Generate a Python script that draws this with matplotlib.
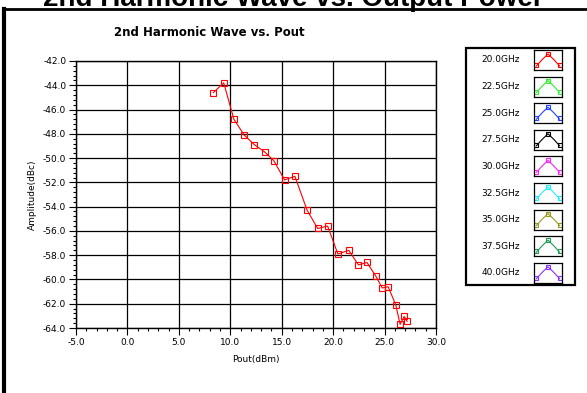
import matplotlib
matplotlib.use("Agg")
import matplotlib.pyplot as plt
from matplotlib.ticker import MultipleLocator, FormatStrFormatter
from matplotlib.patches import Rectangle
from matplotlib.lines import Line2D

# 20.0GHz trace
pout = [8.36, 9.36, 10.35, 11.35, 12.35, 13.35, 14.22, 15.28, 16.28, 17.47,
        18.50, 19.46, 20.46, 21.52, 22.46, 23.29, 24.13, 24.77, 25.35, 26.09,
        26.51, 26.90, 27.19]
amplitude = [-44.6, -43.8, -46.8, -48.1, -48.9, -49.5, -50.2, -51.8, -51.5, -54.3,
             -55.8, -55.6, -57.9, -57.6, -58.8, -58.6, -59.7, -60.7, -60.6, -62.1,
             -63.7, -63.05, -63.45]

freq_labels = ["20.0GHz", "22.5GHz", "25.0GHz", "27.5GHz", "30.0GHz",
               "32.5GHz", "35.0GHz", "37.5GHz", "40.0GHz"]
freq_colors = ["#ff0000", "#33ee33", "#2244ff", "#000000", "#ff22ff",
               "#22eeff", "#999922", "#229955", "#8833ff"]

W, H = 587, 393
fig = plt.figure(figsize=(W / 100, H / 100), dpi=100)
fig.patch.set_facecolor("white")

def fx(px):
    return px / W

def fy(py):
    return 1 - py / H

# page heading (cut off at the top edge, as in the source) and frame
fig.text(0.5, fy(6), "2nd Harmonic Wave vs. Output Power", ha="center", va="baseline",
         fontsize=20, fontweight="bold", family="Liberation Sans")
fig.add_artist(Line2D([fx(4), fx(4)], [fy(9), 0], color="black", lw=3))
fig.add_artist(Line2D([fx(4), 1], [fy(9), fy(9)], color="black", lw=2))

ax = fig.add_axes([fx(76), fy(328), fx(360), (328 - 61) / H])
ax.plot(pout, amplitude, color="red", lw=0.8, marker="s", ms=4.5,
        mfc="none", mec="red", mew=0.8)
ax.set_xlim(-5, 30)
ax.set_ylim(-64, -42)
ax.xaxis.set_major_locator(MultipleLocator(5))
ax.xaxis.set_minor_locator(MultipleLocator(1))
ax.yaxis.set_major_locator(MultipleLocator(2))
ax.yaxis.set_minor_locator(MultipleLocator(0.4))
ax.xaxis.set_major_formatter(FormatStrFormatter("%.1f"))
ax.yaxis.set_major_formatter(FormatStrFormatter("%.1f"))
ax.grid(True, which="major", color="black", lw=0.9)
ax.tick_params(which="major", length=5, width=0.8, labelsize=6.5, pad=2)
ax.tick_params(which="minor", length=2.5, width=0.8)
for s in ax.spines.values():
    s.set_linewidth(1.0)
ax.set_xlabel("Pout(dBm)", fontsize=6.5, labelpad=6)
ax.set_ylabel("Amplitude(dBc)", fontsize=6.5, labelpad=4)
ax.set_title("2nd Harmonic Wave vs. Pout", fontsize=8.5, fontweight="bold", pad=18, x=0.37)

# legend box drawn by hand
fig.add_artist(Rectangle((fx(466), fy(285)), fx(575 - 466), (285 - 48) / H,
                         fill=False, ec="black", lw=1.6, transform=fig.transFigure))
for i, (lab, col) in enumerate(zip(freq_labels, freq_colors)):
    yc = 60 + i * 26.6
    fig.text(fx(520), fy(yc), lab, ha="right", va="center", fontsize=6.5)
    iax = fig.add_axes([fx(534), fy(yc + 10), fx(28), 20 / H])
    iax.plot([0, 1, 2, 3, 4], [0, 0.8, 1.5, 0.8, 0], color=col, lw=0.8)
    iax.plot([0, 2, 4], [0.1, 1.5, 0.1], ls="none", marker="s", ms=3,
             mfc="none", mec=col, mew=0.8)
    iax.set_xlim(-0.4, 4.4)
    iax.set_ylim(-0.5, 2.0)
    iax.set_xticks([])
    iax.set_yticks([])
    for s in iax.spines.values():
        s.set_linewidth(0.9)

fig.savefig("out.png", dpi=100)
